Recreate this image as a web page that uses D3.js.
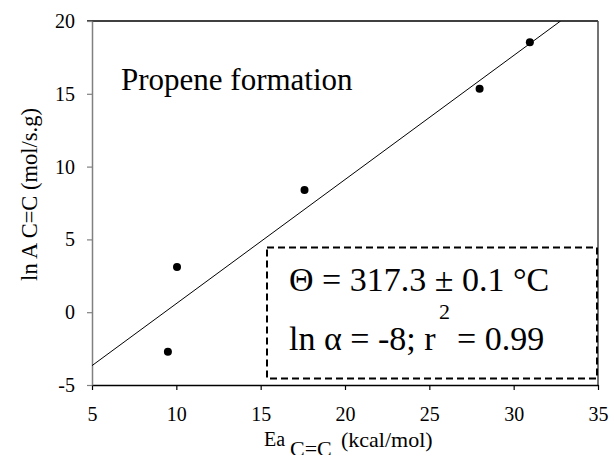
<!DOCTYPE html>
<html>
<head>
<meta charset="utf-8">
<script src="https://cdn.jsdelivr.net/npm/d3@7"></script>
<style>
  html, body { margin: 0; padding: 0; background: #fff; }
</style>
</head>
<body>
<svg id="chart" width="611" height="455"></svg>
<script>
// Activation energy vs. pre-exponential factor for propene formation
const eaValues = [9.5, 10.04, 17.6, 27.98, 30.96];      // Ea C=C (kcal/mol)
const lnAValues = [-2.71, 3.1, 8.4, 15.35, 18.54];      // ln A C=C (mol/s.g)
const xTicks = [5, 10, 15, 20, 25, 30, 35];
const yTicks = [-5, 0, 5, 10, 15, 20];
const xDomain = [5, 35];
const yDomain = [-5, 20];
// compensation line: ln A = slope * Ea + intercept
const fitSlope = 0.852;
const fitIntercept = -7.93;

const SERIF = '"Liberation Serif"';

const svg = d3.select("#chart");
const margin = { left: 92, right: 13, top: 21, bottom: 70 };
const W = 611, H = 455;

const x = d3.scaleLinear().domain(xDomain).range([margin.left, W - margin.right]);
const y = d3.scaleLinear().domain(yDomain).range([H - margin.bottom, margin.top]);

const plotL = x.range()[0], plotR = x.range()[1];
const plotT = y.range()[1], plotB = y.range()[0];

function serifText(sel, size) {
  return sel.style("font-family", SERIF).style("font-size", size + "px").attr("fill", "#000");
}

// frame: top and right edges
svg.append("line").attr("x1", plotL - 5).attr("x2", plotR).attr("y1", plotT).attr("y2", plotT)
  .attr("stroke", "#000").attr("stroke-width", 1.5);
svg.append("line").attr("x1", plotR).attr("x2", plotR).attr("y1", plotT).attr("y2", plotB)
  .attr("stroke", "#444").attr("stroke-width", 1.5);

// x axis
const xAxis = svg.append("g").attr("transform", `translate(0,${plotB})`)
  .call(d3.axisBottom(x).tickValues(xTicks).tickFormat(d => String(d))
    .tickSize(5).tickPadding(17).tickSizeOuter(0));
xAxis.select(".domain").attr("stroke", "#000").attr("stroke-width", 1.5);
xAxis.selectAll(".tick line").attr("stroke", "#000").attr("stroke-width", 1.2);
serifText(xAxis.selectAll(".tick text"), 20);

// y axis
const yAxis = svg.append("g").attr("transform", `translate(${plotL},0)`)
  .call(d3.axisLeft(y).tickValues(yTicks).tickFormat(d => String(d))
    .tickSize(5).tickPadding(12).tickSizeOuter(0));
yAxis.select(".domain").attr("stroke", "#808080").attr("stroke-width", 1.5);
yAxis.selectAll(".tick line").attr("stroke", "#808080").attr("stroke-width", 1.2);
serifText(yAxis.selectAll(".tick text"), 20);

// fitted line, clipped to the plot area
svg.append("clipPath").attr("id", "plotClip").append("rect")
  .attr("x", plotL).attr("y", plotT).attr("width", plotR - plotL).attr("height", plotB - plotT);
const xEnd = (yDomain[1] - fitIntercept) / fitSlope;
const fitPts = [[xDomain[0], fitSlope * xDomain[0] + fitIntercept], [xEnd, yDomain[1]]];
svg.append("path")
  .attr("clip-path", "url(#plotClip)")
  .attr("d", d3.line().x(d => x(d[0])).y(d => y(d[1]))(fitPts))
  .attr("fill", "none").attr("stroke", "#000").attr("stroke-width", 1);

// data points
svg.append("g").selectAll("circle")
  .data(eaValues.map((e, i) => [e, lnAValues[i]]))
  .join("circle")
  .attr("cx", d => x(d[0])).attr("cy", d => y(d[1])).attr("r", 4)
  .attr("fill", "#000");

// chart title inside the plot
serifText(svg.append("text").attr("x", 121).attr("y", 90), 31).text("Propene formation");

// parameter box
svg.append("rect").attr("x", 267).attr("y", 247.5).attr("width", 330).attr("height", 131)
  .attr("fill", "none").attr("stroke", "#000").attr("stroke-width", 2)
  .attr("stroke-dasharray", "7,4");

serifText(svg.append("text").attr("x", 289).attr("y", 291), 34).text("Θ = 317.3 ± 0.1 °C");
serifText(svg.append("text").attr("x", 289).attr("y", 350), 34).text("ln α = -8; r");
serifText(svg.append("text").attr("x", 439).attr("y", 319), 22).text("2");
serifText(svg.append("text").attr("x", 457).attr("y", 350), 34).text("= 0.99");

// axis titles
serifText(svg.append("text").attr("x", 264).attr("y", 446), 20).text("Ea");
serifText(svg.append("text").attr("x", 290).attr("y", 456), 22).text("C=C");
serifText(svg.append("text").attr("x", 341).attr("y", 447), 22).text("(kcal/mol)");

const yl = serifText(svg.append("text")
  .attr("transform", "translate(37,194.5) rotate(-90)")
  .attr("text-anchor", "middle"), 22.5);
yl.append("tspan").text("ln A ");
yl.append("tspan").text("C=C");
yl.append("tspan").text(" (mol/s.g)");
</script>
</body>
</html>
